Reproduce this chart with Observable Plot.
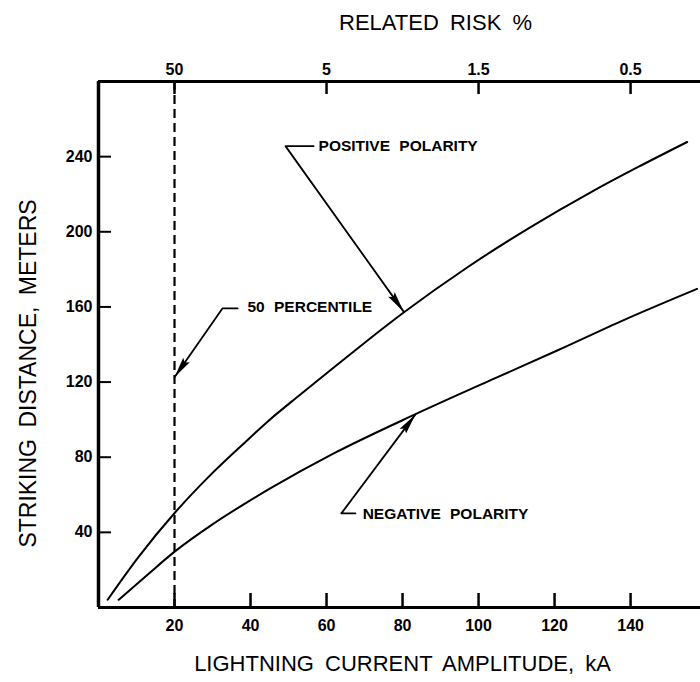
<!DOCTYPE html>
<html><head><meta charset="utf-8">
<script src="https://cdn.jsdelivr.net/npm/d3@7"></script>
<script src="https://cdn.jsdelivr.net/npm/@observablehq/plot@0.6"></script>
<style>
body{margin:0;background:#fff;}
svg text{word-spacing:5px;}
</style>
</head><body><div id="chart"></div>
<script>
// ---- data ----
const posCurrent = [2.4, 10.5, 20.2, 28.9, 38.6, 44.4, 53.2, 61.9, 70.7, 80.3, 97, 113.7, 129.5, 142, 154.9];
const posDistance = [4.1, 26.8, 50.7, 69.4, 88, 98.8, 113.5, 127.8, 142, 157, 181, 202.5, 221, 234.5, 247.8];
const negCurrent = [5.3, 13.2, 20.2, 29.8, 39.5, 45.3, 61.9, 83, 103.2, 120.7, 138.2, 157.5];
const negDistance = [4.1, 18, 30, 44, 56.5, 63.5, 82, 102.5, 121, 136.8, 153, 169.6];
const percentile50 = 20;
const xTicks = [20, 40, 60, 80, 100, 120, 140];
const yTicks = [40, 80, 120, 160, 200, 240];
const riskPositions = [20, 60, 100, 140];
const riskLabels = ["50", "5", "1.5", "0.5"];
const annLabels = ["POSITIVE POLARITY", "50 PERCENTILE", "NEGATIVE POLARITY"];
const annTipX = [80.3, 20, 83.4];
const annTipY = [157.5, 122.6, 102.8];
const annElbowX = [49.2, 32.6, 63.9];
const annElbowY = [245.6, 159.2, 50.1];
const annEndX = [56.6, 36.6, 67.6];
const annTextX = [57.9, 39.2, 69.5];
const annTextY = [245.6, 159.7, 49.8];
const xTitle = "LIGHTNING CURRENT AMPLITUDE, kA";
const yTitle = "STRIKING DISTANCE, METERS";
const topTitle = "RELATED RISK %";

// ---- layout ----
const W = 700, H = 682, mL = 98, mR = 0, mT = 81, mB = 75;
const xDomain = [0, 158.4], yDomain = [0, 280];
const sx = Plot.scale({x: {domain: xDomain, range: [mL, W - mR]}});
const sy = Plot.scale({y: {domain: yDomain, range: [H - mB, mT]}});

const pos = posCurrent.map((x, i) => ({x, y: posDistance[i]}));
const neg = negCurrent.map((x, i) => ({x, y: negDistance[i]}));
const leaders = [];
annLabels.forEach((label, i) => {
  leaders.push({k: i, x: annEndX[i], y: annElbowY[i]});
  leaders.push({k: i, x: annElbowX[i], y: annElbowY[i]});
  leaders.push({k: i, x: annTipX[i], y: annTipY[i]});
});
const heads = annLabels.map((label, i) => {
  const dx = sx.apply(annTipX[i]) - sx.apply(annElbowX[i]);
  const dy = sy.apply(annTipY[i]) - sy.apply(annElbowY[i]);
  return {x: annTipX[i], y: annTipY[i], angle: Math.atan2(dx, -dy) * 180 / Math.PI};
});
const texts = annLabels.map((label, i) => ({label, x: annTextX[i], y: annTextY[i]}));
const dart = {draw(ctx) { ctx.moveTo(0, 0); ctx.lineTo(4, 21); ctx.lineTo(0, 18); ctx.lineTo(-4, 21); ctx.closePath(); }};
const riskMap = new Map(riskPositions.map((p, i) => [p, riskLabels[i]]));

const chart = Plot.plot({
  width: W, height: H,
  marginLeft: mL, marginRight: mR, marginTop: mT, marginBottom: mB,
  style: {fontFamily: "'Liberation Sans', Arial, sans-serif", background: "#fff", color: "#000"},
  x: {domain: xDomain},
  y: {domain: yDomain},
  marks: [
    Plot.axisY(yTicks, {anchor: "left", tickSize: -13, tickPadding: 19, strokeWidth: 2, fontSize: 16, fontWeight: "bold", label: null}),
    Plot.axisX(xTicks, {anchor: "bottom", tickSize: -14, tickPadding: 26, strokeWidth: 2.5, fontSize: 16, fontWeight: "bold", label: null}),
    Plot.axisX(riskPositions, {anchor: "top", tickSize: -12, tickPadding: 19, strokeWidth: 2.5, fontSize: 16, fontWeight: "bold", tickFormat: d => riskMap.get(d), label: null}),
    Plot.ruleX([0], {strokeWidth: 3.5}),
    Plot.ruleY([yDomain[0]], {strokeWidth: 3}),
    Plot.ruleY([yDomain[1]], {strokeWidth: 3}),
    Plot.ruleX([percentile50], {strokeWidth: 2.2, strokeDasharray: "9,5"}),
    Plot.line(pos, {x: "x", y: "y", curve: "monotone-x", strokeWidth: 2}),
    Plot.line(neg, {x: "x", y: "y", curve: "monotone-x", strokeWidth: 2}),
    Plot.line(leaders, {x: "x", y: "y", z: "k", strokeWidth: 1.8}),
    Plot.dot(heads, {x: "x", y: "y", symbol: dart, rotate: "angle", fill: "black", stroke: "none", r: 5}),
    Plot.text(texts, {x: "x", y: "y", text: "label", textAnchor: "start", lineAnchor: "middle", fontSize: 15.5, fontWeight: "bold"}),
    Plot.text([xTitle], {frameAnchor: "bottom", textAnchor: "middle", lineAnchor: "middle", dy: 56, dx: 3, fontSize: 22}),
    Plot.text([yTitle], {frameAnchor: "left", textAnchor: "middle", lineAnchor: "middle", rotate: -90, dx: -70, dy: 29, fontSize: 23, style: "word-spacing:11px"}),
    Plot.text([topTitle], {frameAnchor: "top", textAnchor: "middle", lineAnchor: "middle", dy: -59, dx: 36, fontSize: 22})
  ]
});
document.getElementById("chart").appendChild(chart);
</script>
</body></html>
